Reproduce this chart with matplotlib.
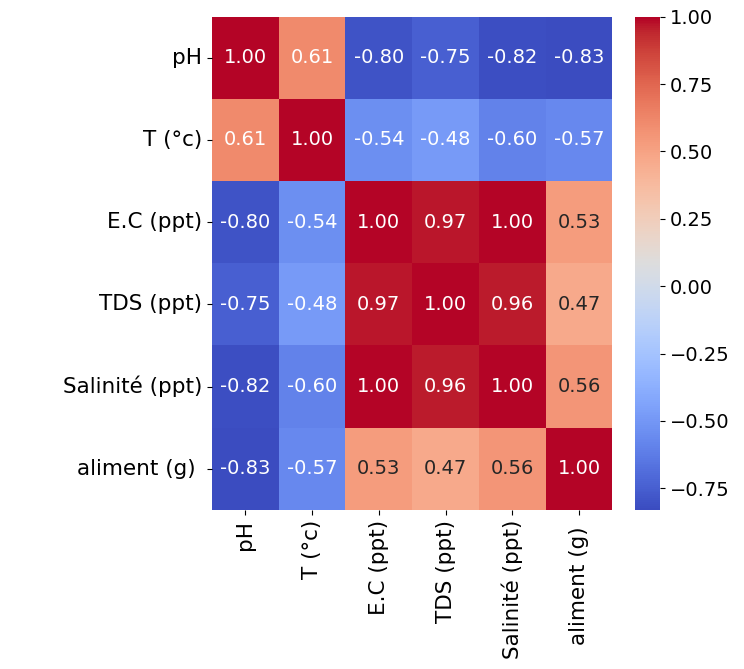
import numpy as np
import matplotlib
matplotlib.use("Agg")
import matplotlib.pyplot as plt
import seaborn as sns

labels = ['pH', 'T (°c)', 'E.C (ppt)', 'TDS (ppt)', 'Salinité (ppt)', 'aliment (g) ']

corr = np.array([
    [1.00, 0.61, -0.80, -0.75, -0.82, -0.83],
    [0.61, 1.00, -0.54, -0.48, -0.60, -0.57],
    [-0.80, -0.54, 1.00, 0.97, 1.00, 0.53],
    [-0.75, -0.48, 0.97, 1.00, 0.96, 0.47],
    [-0.82, -0.60, 1.00, 0.96, 1.00, 0.56],
    [-0.83, -0.57, 0.53, 0.47, 0.56, 1.00],
])

fig = plt.figure(figsize=(7.44, 6.69), dpi=100)
ax = fig.add_axes([0.285, 0.238, 0.538, 0.737])
cax = fig.add_axes([0.853, 0.238, 0.034, 0.737])

sns.heatmap(corr, annot=True, fmt='.2f', cmap='coolwarm', ax=ax, cbar_ax=cax,
            xticklabels=labels, yticklabels=labels, annot_kws={'size': 14})
ax.tick_params(axis='both', labelsize=15.5)
plt.setp(ax.get_xticklabels(), rotation=90)
plt.setp(ax.get_yticklabels(), rotation=0)
cax.tick_params(labelsize=14)

fig.savefig('out.png', dpi=100)
